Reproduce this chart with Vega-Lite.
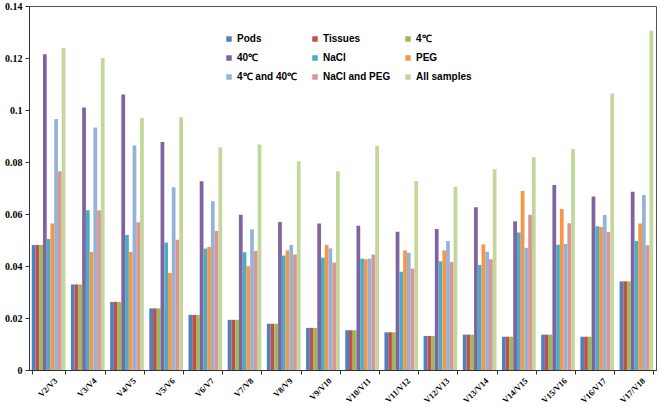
{
  "$schema": "https://vega.github.io/schema/vega-lite/v6.json",
  "autosize": "none",
  "width": 627,
  "height": 364,
  "padding": {"left": 29, "top": 6, "right": 4, "bottom": 37},
  "background": "white",
  "config": {
    "view": {"stroke": "#555", "strokeWidth": 1},
    "axis": {"labelFont": "Liberation Serif", "labelFontWeight": "bold", "labelFontSize": 10, "labelColor": "black", "domainColor": "#333", "tickColor": "#333", "grid": false}
  },
  "data": {"values": [
    {"g":"V2/V3","s":"Pods","v":0.0481},{"g":"V2/V3","s":"Tissues","v":0.0481},{"g":"V2/V3","s":"4℃","v":0.0481},{"g":"V2/V3","s":"40℃","v":0.1214},{"g":"V2/V3","s":"NaCl","v":0.0504},{"g":"V2/V3","s":"PEG","v":0.0563},{"g":"V2/V3","s":"4℃ and 40℃","v":0.0965},{"g":"V2/V3","s":"NaCl and PEG","v":0.0764},{"g":"V2/V3","s":"All samples","v":0.1238},
    {"g":"V3/V4","s":"Pods","v":0.0329},{"g":"V3/V4","s":"Tissues","v":0.0329},{"g":"V3/V4","s":"4℃","v":0.0329},{"g":"V3/V4","s":"40℃","v":0.101},{"g":"V3/V4","s":"NaCl","v":0.0614},{"g":"V3/V4","s":"PEG","v":0.0454},{"g":"V3/V4","s":"4℃ and 40℃","v":0.0933},{"g":"V3/V4","s":"NaCl and PEG","v":0.0614},{"g":"V3/V4","s":"All samples","v":0.120},
    {"g":"V4/V5","s":"Pods","v":0.0262},{"g":"V4/V5","s":"Tissues","v":0.0262},{"g":"V4/V5","s":"4℃","v":0.0262},{"g":"V4/V5","s":"40℃","v":0.106},{"g":"V4/V5","s":"NaCl","v":0.0519},{"g":"V4/V5","s":"PEG","v":0.0454},{"g":"V4/V5","s":"4℃ and 40℃","v":0.0863},{"g":"V4/V5","s":"NaCl and PEG","v":0.0568},{"g":"V4/V5","s":"All samples","v":0.0969},
    {"g":"V5/V6","s":"Pods","v":0.0237},{"g":"V5/V6","s":"Tissues","v":0.0237},{"g":"V5/V6","s":"4℃","v":0.0237},{"g":"V5/V6","s":"40℃","v":0.0877},{"g":"V5/V6","s":"NaCl","v":0.049},{"g":"V5/V6","s":"PEG","v":0.0373},{"g":"V5/V6","s":"4℃ and 40℃","v":0.0703},{"g":"V5/V6","s":"NaCl and PEG","v":0.0501},{"g":"V5/V6","s":"All samples","v":0.0972},
    {"g":"V6/V7","s":"Pods","v":0.0212},{"g":"V6/V7","s":"Tissues","v":0.0212},{"g":"V6/V7","s":"4℃","v":0.0212},{"g":"V6/V7","s":"40℃","v":0.0726},{"g":"V6/V7","s":"NaCl","v":0.0467},{"g":"V6/V7","s":"PEG","v":0.0473},{"g":"V6/V7","s":"4℃ and 40℃","v":0.0649},{"g":"V6/V7","s":"NaCl and PEG","v":0.0535},{"g":"V6/V7","s":"All samples","v":0.0857},
    {"g":"V7/V8","s":"Pods","v":0.0193},{"g":"V7/V8","s":"Tissues","v":0.0193},{"g":"V7/V8","s":"4℃","v":0.0193},{"g":"V7/V8","s":"40℃","v":0.0597},{"g":"V7/V8","s":"NaCl","v":0.0453},{"g":"V7/V8","s":"PEG","v":0.0399},{"g":"V7/V8","s":"4℃ and 40℃","v":0.0541},{"g":"V7/V8","s":"NaCl and PEG","v":0.0458},{"g":"V7/V8","s":"All samples","v":0.0867},
    {"g":"V8/V9","s":"Pods","v":0.0178},{"g":"V8/V9","s":"Tissues","v":0.0178},{"g":"V8/V9","s":"4℃","v":0.0178},{"g":"V8/V9","s":"40℃","v":0.0569},{"g":"V8/V9","s":"NaCl","v":0.044},{"g":"V8/V9","s":"PEG","v":0.046},{"g":"V8/V9","s":"4℃ and 40℃","v":0.0481},{"g":"V8/V9","s":"NaCl and PEG","v":0.0444},{"g":"V8/V9","s":"All samples","v":0.0803},
    {"g":"V9/V10","s":"Pods","v":0.0162},{"g":"V9/V10","s":"Tissues","v":0.0162},{"g":"V9/V10","s":"4℃","v":0.0162},{"g":"V9/V10","s":"40℃","v":0.0563},{"g":"V9/V10","s":"NaCl","v":0.0432},{"g":"V9/V10","s":"PEG","v":0.0481},{"g":"V9/V10","s":"4℃ and 40℃","v":0.0468},{"g":"V9/V10","s":"NaCl and PEG","v":0.0413},{"g":"V9/V10","s":"All samples","v":0.0764},
    {"g":"V10/V11","s":"Pods","v":0.0153},{"g":"V10/V11","s":"Tissues","v":0.0153},{"g":"V10/V11","s":"4℃","v":0.0153},{"g":"V10/V11","s":"40℃","v":0.0555},{"g":"V10/V11","s":"NaCl","v":0.0428},{"g":"V10/V11","s":"PEG","v":0.0426},{"g":"V10/V11","s":"4℃ and 40℃","v":0.0428},{"g":"V10/V11","s":"NaCl and PEG","v":0.0444},{"g":"V10/V11","s":"All samples","v":0.0862},
    {"g":"V11/V12","s":"Pods","v":0.0145},{"g":"V11/V12","s":"Tissues","v":0.0145},{"g":"V11/V12","s":"4℃","v":0.0145},{"g":"V11/V12","s":"40℃","v":0.0532},{"g":"V11/V12","s":"NaCl","v":0.0378},{"g":"V11/V12","s":"PEG","v":0.046},{"g":"V11/V12","s":"4℃ and 40℃","v":0.0451},{"g":"V11/V12","s":"NaCl and PEG","v":0.039},{"g":"V11/V12","s":"All samples","v":0.0727},
    {"g":"V12/V13","s":"Pods","v":0.0131},{"g":"V12/V13","s":"Tissues","v":0.0131},{"g":"V12/V13","s":"4℃","v":0.0131},{"g":"V12/V13","s":"40℃","v":0.0542},{"g":"V12/V13","s":"NaCl","v":0.0418},{"g":"V12/V13","s":"PEG","v":0.046},{"g":"V12/V13","s":"4℃ and 40℃","v":0.0496},{"g":"V12/V13","s":"NaCl and PEG","v":0.0415},{"g":"V12/V13","s":"All samples","v":0.0705},
    {"g":"V13/V14","s":"Pods","v":0.0136},{"g":"V13/V14","s":"Tissues","v":0.0136},{"g":"V13/V14","s":"4℃","v":0.0136},{"g":"V13/V14","s":"40℃","v":0.0626},{"g":"V13/V14","s":"NaCl","v":0.0404},{"g":"V13/V14","s":"PEG","v":0.0483},{"g":"V13/V14","s":"4℃ and 40℃","v":0.0455},{"g":"V13/V14","s":"NaCl and PEG","v":0.0426},{"g":"V13/V14","s":"All samples","v":0.0772},
    {"g":"V14/V15","s":"Pods","v":0.0128},{"g":"V14/V15","s":"Tissues","v":0.0128},{"g":"V14/V15","s":"4℃","v":0.0128},{"g":"V14/V15","s":"40℃","v":0.0572},{"g":"V14/V15","s":"NaCl","v":0.0529},{"g":"V14/V15","s":"PEG","v":0.0688},{"g":"V14/V15","s":"4℃ and 40℃","v":0.047},{"g":"V14/V15","s":"NaCl and PEG","v":0.0597},{"g":"V14/V15","s":"All samples","v":0.0818},
    {"g":"V15/V16","s":"Pods","v":0.0136},{"g":"V15/V16","s":"Tissues","v":0.0136},{"g":"V15/V16","s":"4℃","v":0.0136},{"g":"V15/V16","s":"40℃","v":0.0712},{"g":"V15/V16","s":"NaCl","v":0.0482},{"g":"V15/V16","s":"PEG","v":0.0619},{"g":"V15/V16","s":"4℃ and 40℃","v":0.0485},{"g":"V15/V16","s":"NaCl and PEG","v":0.0564},{"g":"V15/V16","s":"All samples","v":0.085},
    {"g":"V16/V17","s":"Pods","v":0.0128},{"g":"V16/V17","s":"Tissues","v":0.0128},{"g":"V16/V17","s":"4℃","v":0.0128},{"g":"V16/V17","s":"40℃","v":0.0667},{"g":"V16/V17","s":"NaCl","v":0.0553},{"g":"V16/V17","s":"PEG","v":0.055},{"g":"V16/V17","s":"4℃ and 40℃","v":0.0596},{"g":"V16/V17","s":"NaCl and PEG","v":0.0531},{"g":"V16/V17","s":"All samples","v":0.1063},
    {"g":"V17/V18","s":"Pods","v":0.0341},{"g":"V17/V18","s":"Tissues","v":0.0341},{"g":"V17/V18","s":"4℃","v":0.0341},{"g":"V17/V18","s":"40℃","v":0.0686},{"g":"V17/V18","s":"NaCl","v":0.0496},{"g":"V17/V18","s":"PEG","v":0.0563},{"g":"V17/V18","s":"4℃ and 40℃","v":0.0673},{"g":"V17/V18","s":"NaCl and PEG","v":0.048},{"g":"V17/V18","s":"All samples","v":0.1305}
  ]},
  "mark": {"type": "bar"},
  "encoding": {
    "x": {"field": "g", "type": "nominal", "sort": null, "title": null,
      "scale": {"paddingInner": 0.14, "paddingOuter": 0.07},
      "axis": {"labelAngle": -45, "tickBand": "extent", "tickSize": 4, "labelPadding": 2, "labelFontSize": 8.5, "labelOffset": 4}},
    "xOffset": {"field": "s", "type": "nominal", "sort": ["Pods","Tissues","4℃","40℃","NaCl","PEG","4℃ and 40℃","NaCl and PEG","All samples"], "scale": {"paddingInner": 0, "paddingOuter": 0}},
    "y": {"field": "v", "type": "quantitative", "title": null,
      "scale": {"domain": [0, 0.14], "nice": false},
      "axis": {"values": [0, 0.02, 0.04, 0.06, 0.08, 0.1, 0.12, 0.14], "format": ".2~f", "tickSize": 4, "labelPadding": 3}},
    "color": {"field": "s", "type": "nominal", "sort": ["Pods","Tissues","4℃","40℃","NaCl","PEG","4℃ and 40℃","NaCl and PEG","All samples"],
      "scale": {"domain": ["Pods","Tissues","4℃","40℃","NaCl","PEG","4℃ and 40℃","NaCl and PEG","All samples"],
        "range": ["#4F81BD","#C0504D","#9BBB59","#8064A2","#4BACC6","#F79646","#95B3D7","#D99694","#C3D69B"]},
      "legend": {"title": null, "orient": "none", "legendX": 195, "legendY": 28, "direction": "horizontal", "columns": 3,
        "symbolType": "square", "symbolSize": 30, "symbolStrokeWidth": 0, "labelFont": "Liberation Sans", "labelFontWeight": "bold", "labelFontSize": 10, "labelColor": "black",
        "columnPadding": 12, "rowPadding": 9, "labelOffset": 3}}
  }
}
